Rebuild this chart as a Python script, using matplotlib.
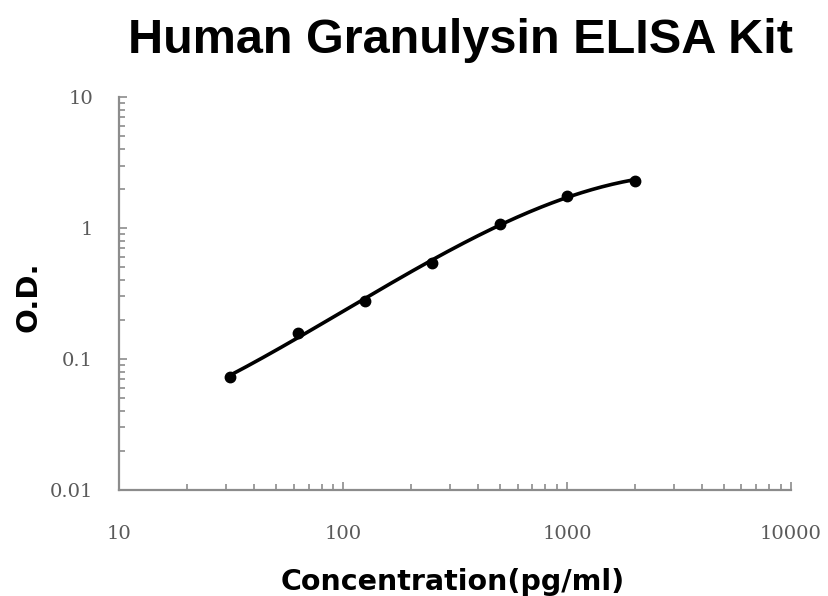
#!/usr/bin/env python3

import numpy as np
import matplotlib
matplotlib.use("Agg")
import matplotlib.pyplot as plt
from matplotlib.ticker import LogLocator, FixedLocator, FixedFormatter

# standard curve readings
conc = [31.25, 62.5, 125, 250, 500, 1000, 2000]
od = [0.073, 0.157, 0.279, 0.545, 1.08, 1.76, 2.3]

x_ticks = [10, 100, 1000, 10000]
x_labels = ["10", "100", "1000", "10000"]
y_ticks = [0.01, 0.1, 1, 10]
y_labels = ["0.01", "0.1", "1", "10"]


def main():
	fig = plt.figure(figsize=(8.29, 5.96), dpi=100)
	ax = fig.add_axes([0.1441, 0.1779, 0.8101, 0.6593])

	# smooth fit in log-log space
	lx = np.log10(conc)
	ly = np.log10(od)
	coef = np.polyfit(lx, ly, 3)
	xs = np.linspace(lx[0], lx[-1], 200)
	ax.plot(10 ** xs, 10 ** np.polyval(coef, xs), color="black", lw=2.6, solid_capstyle="round")
	ax.plot(conc, od, "o", color="black", ms=7.5)

	ax.set_xscale("log")
	ax.set_yscale("log")
	ax.set_xlim(10, 10000)
	ax.set_ylim(0.01, 10)

	ax.xaxis.set_major_locator(FixedLocator(x_ticks))
	ax.xaxis.set_major_formatter(FixedFormatter(x_labels))
	ax.yaxis.set_major_locator(FixedLocator(y_ticks))
	ax.yaxis.set_major_formatter(FixedFormatter(y_labels))
	ax.xaxis.set_minor_locator(LogLocator(base=10, subs=np.arange(2, 10)))
	ax.yaxis.set_minor_locator(LogLocator(base=10, subs=np.arange(2, 10)))
	ax.xaxis.set_minor_formatter(FixedFormatter([]))
	ax.yaxis.set_minor_formatter(FixedFormatter([]))

	for s in ["top", "right"]:
		ax.spines[s].set_visible(False)
	for s in ["left", "bottom"]:
		ax.spines[s].set_color("#8c8c8c")
		ax.spines[s].set_linewidth(1.6)

	ax.tick_params(which="both", direction="in", color="#8c8c8c", width=1.2)
	ax.tick_params(which="major", length=6)
	ax.tick_params(which="minor", length=4)
	ax.tick_params(axis="x", which="major", pad=25)
	ax.tick_params(axis="y", which="major", pad=19)
	for lab in ax.get_xticklabels() + ax.get_yticklabels():
		lab.set_family(["DejaVu Serif"])
		lab.set_fontsize(14)
		lab.set_color("#5a5a5a")

	fig.text(0.556, 0.911, "Human Granulysin ELISA Kit", ha="center", va="baseline",
		fontsize=35, fontweight="bold", family=["Liberation Sans", "DejaVu Sans"])
	fig.text(0.546, 0.010, "Concentration(pg/ml)", ha="center", va="baseline",
		fontsize=20.5, fontweight="bold", family=["DejaVu Sans"])
	fig.text(0.034, 0.503, "O.D.", ha="center", va="center", rotation=90,
		fontsize=21, fontweight="bold", family=["DejaVu Sans"])

	fig.savefig("out.png", dpi=100)


if __name__ == "__main__":
	main()
